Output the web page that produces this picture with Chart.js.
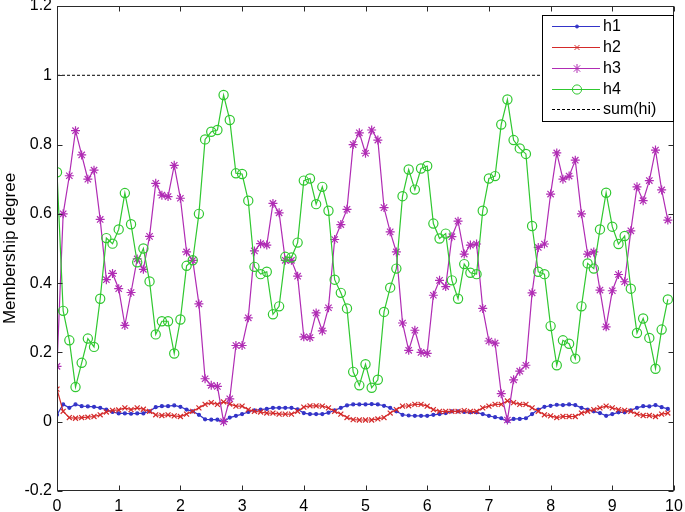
<!DOCTYPE html>
<html>
<head>
<meta charset="utf-8">
<script src="https://cdn.jsdelivr.net/npm/chart.js@4/dist/chart.umd.min.js"></script>
<style>
  html, body { margin: 0; padding: 0; background: #fff; }
  canvas { display: block; }
</style>
</head>
<body>
<canvas id="c" width="685" height="512"></canvas>
<script>
// sample positions (0 .. 9.9, step 0.1)
const xs = [0,0.1,0.2,0.3,0.4,0.5,0.6,0.7,0.8,0.9,
  1,1.1,1.2,1.3,1.4,1.5,1.6,1.7,1.8,1.9,
  2,2.1,2.2,2.3,2.4,2.5,2.6,2.7,2.8,2.9,
  3,3.1,3.2,3.3,3.4,3.5,3.6,3.7,3.8,3.9,
  4,4.1,4.2,4.3,4.4,4.5,4.6,4.7,4.8,4.9,
  5,5.1,5.2,5.3,5.4,5.5,5.6,5.7,5.8,5.9,
  6,6.1,6.2,6.3,6.4,6.5,6.6,6.7,6.8,6.9,
  7,7.1,7.2,7.3,7.4,7.5,7.6,7.7,7.8,7.9,
  8,8.1,8.2,8.3,8.4,8.5,8.6,8.7,8.8,8.9,
  9,9.1,9.2,9.3,9.4,9.5,9.6,9.7,9.8,9.9];

const h1 = [0.02,0.05,0.04,0.05,0.045,0.044,0.043,0.04,0.035,0.028,
  0.024,0.024,0.023,0.024,0.024,0.03,0.042,0.045,0.045,0.047,
  0.043,0.035,0.03,0.02,0.007,0.006,0.006,0.0,0.012,0.017,
  0.022,0.028,0.033,0.035,0.037,0.04,0.04,0.04,0.04,0.036,
  0.025,0.022,0.022,0.022,0.026,0.033,0.04,0.047,0.05,0.05,
  0.05,0.051,0.05,0.046,0.04,0.03,0.02,0.018,0.017,0.017,
  0.017,0.02,0.022,0.025,0.03,0.03,0.028,0.027,0.027,0.022,
  0.017,0.013,0.01,0.002,0.008,0.008,0.01,0.022,0.035,0.043,
  0.046,0.049,0.048,0.05,0.048,0.04,0.035,0.03,0.025,0.017,
  0.022,0.027,0.027,0.033,0.04,0.045,0.044,0.048,0.042,0.037];

const h2 = [0.094,0.03,0.012,0.01,0.012,0.013,0.015,0.02,0.028,0.033,
  0.034,0.04,0.035,0.04,0.036,0.03,0.02,0.018,0.02,0.017,
  0.015,0.022,0.03,0.04,0.05,0.055,0.05,0.057,0.051,0.045,
  0.045,0.035,0.03,0.028,0.025,0.025,0.022,0.022,0.022,0.03,
  0.042,0.046,0.046,0.045,0.04,0.03,0.022,0.012,0.006,0.005,
  0.005,0.005,0.008,0.012,0.025,0.035,0.045,0.046,0.05,0.05,
  0.045,0.035,0.03,0.03,0.03,0.03,0.032,0.03,0.03,0.04,
  0.045,0.05,0.05,0.06,0.055,0.05,0.05,0.04,0.03,0.02,
  0.017,0.012,0.015,0.015,0.015,0.025,0.03,0.035,0.04,0.045,
  0.04,0.035,0.033,0.03,0.022,0.018,0.018,0.015,0.022,0.025];

const h3 = [0.16,0.60,0.71,0.84,0.77,0.70,0.726,0.584,0.41,0.428,
  0.384,0.278,0.373,0.47,0.44,0.535,0.688,0.654,0.65,0.74,
  0.645,0.49,0.466,0.34,0.124,0.105,0.102,0.0,0.066,0.22,
  0.22,0.30,0.493,0.514,0.51,0.63,0.603,0.466,0.466,0.42,
  0.245,0.243,0.314,0.262,0.329,0.526,0.569,0.613,0.80,0.834,
  0.775,0.842,0.813,0.618,0.548,0.49,0.285,0.206,0.264,0.20,
  0.197,0.365,0.408,0.39,0.534,0.579,0.484,0.51,0.513,0.327,
  0.233,0.227,0.081,0.005,0.121,0.146,0.163,0.372,0.503,0.513,
  0.657,0.776,0.70,0.709,0.755,0.60,0.484,0.49,0.38,0.274,
  0.378,0.425,0.404,0.551,0.678,0.638,0.696,0.784,0.669,0.582];

const h4 = [0.72,0.32,0.235,0.10,0.17,0.24,0.216,0.355,0.53,0.514,
  0.555,0.66,0.57,0.46,0.50,0.405,0.252,0.29,0.29,0.197,
  0.295,0.45,0.466,0.60,0.815,0.837,0.842,0.943,0.871,0.717,
  0.715,0.638,0.447,0.426,0.433,0.31,0.333,0.476,0.474,0.517,
  0.696,0.702,0.628,0.678,0.609,0.41,0.372,0.327,0.144,0.105,
  0.166,0.098,0.121,0.317,0.387,0.442,0.651,0.728,0.67,0.731,
  0.738,0.572,0.529,0.543,0.408,0.355,0.455,0.43,0.426,0.609,
  0.702,0.709,0.858,0.93,0.813,0.789,0.773,0.565,0.433,0.426,
  0.276,0.163,0.235,0.225,0.182,0.333,0.457,0.442,0.555,0.661,
  0.563,0.513,0.536,0.384,0.256,0.298,0.242,0.153,0.266,0.353];

const sumX = [0, 10];
const sumY = [1, 1];

const xTicks = [0,1,2,3,4,5,6,7,8,9,10];
const yTicks = [-0.2,0,0.2,0.4,0.6,0.8,1,1.2];

const FONT = '"Liberation Sans", Arial, sans-serif';
Chart.defaults.font.family = FONT;
Chart.defaults.font.size = 16;
Chart.defaults.color = '#000';

function pts(xv, yv) { return xv.map((x, i) => ({ x: x, y: yv[i] })); }
function fmt(v) { return String(Math.round(v * 10) / 10); }

function series(label, vals, color, style, r, fillPt, order) {
  return {
    label: label, data: pts(xs, vals), order: order,
    borderColor: color, borderWidth: 1.2, tension: 0, fill: false,
    pointStyle: style, pointRadius: r, pointHoverRadius: r,
    pointBorderColor: color, pointBorderWidth: 1.2,
    pointBackgroundColor: fillPt ? color : 'rgba(0,0,0,0)'
  };
}

const datasets = [
  series('h1', h1, '#3434c8', 'circle', 1.5, true, 5),
  series('h2', h2, '#d42a2a', 'crossRot', 3.5, false, 4),
  series('h3', h3, '#b02cb4', 'star', 4.5, false, 3),
  series('h4', h4, '#30c830', 'circle', 4.6, false, 2),
  { label: 'sum(hi)', data: pts(sumX, sumY), order: 1, borderColor: '#000',
    borderWidth: 1, borderDash: [3, 2], pointRadius: 0, fill: false }
];

// MATLAB style box, inward ticks and legend inside the axes
const matlabAxes = {
  id: 'matlabAxes',
  afterDraw(chart) {
    const ctx = chart.ctx, a = chart.chartArea;
    const L = Math.round(a.left) + 0.5, R = Math.round(a.right) - 0.5;
    const T = Math.round(a.top) + 0.5, B = Math.round(a.bottom) - 0.5;
    ctx.save();
    ctx.strokeStyle = '#2a2a2a';
    ctx.lineWidth = 1;
    ctx.strokeRect(L, T, R - L, B - T);
    ctx.beginPath();
    chart.scales.x.ticks.forEach(t => {
      const p = Math.round(chart.scales.x.getPixelForValue(t.value)) + 0.5;
      ctx.moveTo(p, B); ctx.lineTo(p, B - 5);
      ctx.moveTo(p, T); ctx.lineTo(p, T + 5);
    });
    chart.scales.y.ticks.forEach(t => {
      const p = Math.round(chart.scales.y.getPixelForValue(t.value)) + 0.5;
      ctx.moveTo(L, p); ctx.lineTo(L + 5, p);
      ctx.moveTo(R, p); ctx.lineTo(R - 5, p);
    });
    ctx.stroke();

    // legend
    const bx = 542.5, by = 15.5, bw = 131, bh = 106;
    ctx.fillStyle = '#fff';
    ctx.fillRect(bx, by, bw, bh);
    ctx.strokeStyle = '#000';
    ctx.strokeRect(bx, by, bw, bh);
    ctx.font = '16px ' + FONT;
    ctx.textBaseline = 'middle';
    const rowY = [26, 47, 68, 89, 109];
    chart.data.datasets.forEach((ds, i) => {
      const y = rowY[i] + 0.5;
      ctx.save();
      ctx.strokeStyle = ds.borderColor;
      ctx.lineWidth = 1;
      ctx.setLineDash(ds.borderDash || []);
      ctx.beginPath();
      ctx.moveTo(552, y); ctx.lineTo(600, y);
      ctx.stroke();
      ctx.setLineDash([]);
      if (ds.pointRadius > 0) {
        ctx.fillStyle = ds.pointBackgroundColor;
        ctx.strokeStyle = ds.pointBorderColor;
        Chart.helpers.drawPoint(ctx, { pointStyle: ds.pointStyle, radius: ds.pointRadius,
          rotation: 0, borderWidth: 1 }, 577, y);
      }
      ctx.restore();
      ctx.fillStyle = '#000';
      ctx.fillText(ds.label, 603, y);
    });
    ctx.restore();
  }
};

new Chart(document.getElementById('c'), {
  type: 'line',
  data: { datasets: datasets },
  options: {
    responsive: false,
    animation: false,
    devicePixelRatio: 1,
    layout: { padding: { top: 6, right: 11, left: 0, bottom: 0 } },
    plugins: { legend: { display: false }, tooltip: { enabled: false } },
    scales: {
      x: {
        type: 'linear', min: 0, max: 10,
        grid: { display: false, drawTicks: false },
        border: { display: false },
        ticks: { padding: 6, maxRotation: 0, autoSkip: false, callback: v => fmt(v) },
        afterBuildTicks: s => { s.ticks = xTicks.map(v => ({ value: v })); },
        afterFit: s => { s.height = 21; s.paddingLeft = 0; s.paddingRight = 0; }
      },
      y: {
        type: 'linear', min: -0.2, max: 1.2,
        grid: { display: false, drawTicks: false },
        border: { display: false },
        title: { display: true, text: 'Membership degree', padding: 0, font: { size: 17 } },
        ticks: { padding: 5, autoSkip: false, callback: v => fmt(v) },
        afterBuildTicks: s => { s.ticks = yTicks.map(v => ({ value: v })); },
        afterFit: s => { s.width = 57; s.paddingTop = 0; s.paddingBottom = 0; }
      }
    }
  },
  plugins: [matlabAxes]
});
</script>
</body>
</html>
